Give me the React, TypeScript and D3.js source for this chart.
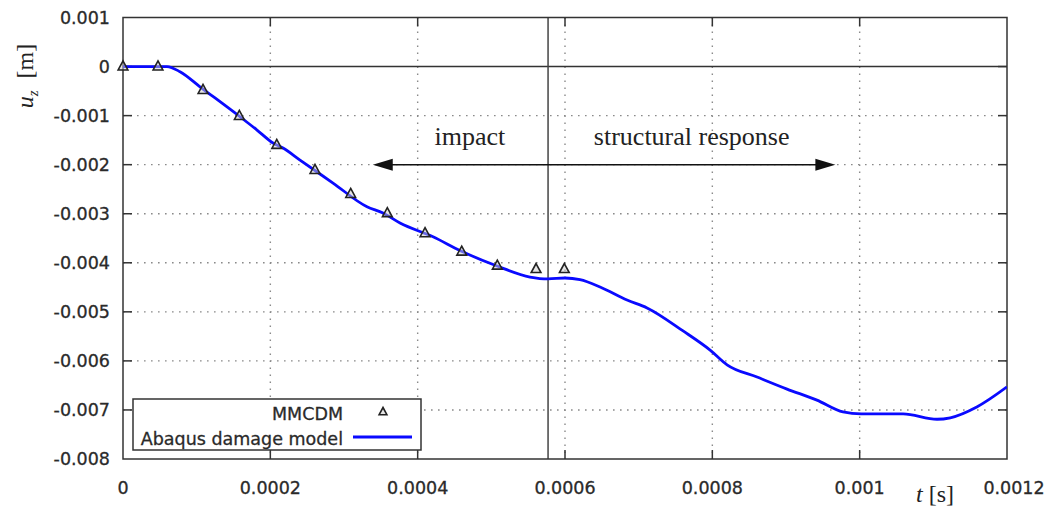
import React from "react";
import * as d3 from "d3";

// Data
const xTicks = [0, 0.0002, 0.0004, 0.0006, 0.0008, 0.001, 0.0012];
const xTickLabels = ["0", "0.0002", "0.0004", "0.0006", "0.0008", "0.001", "0.0012"];
const yTicks = [0.001, 0, -0.001, -0.002, -0.003, -0.004, -0.005, -0.006, -0.007, -0.008];
const yTickLabels = ["0.001", "0", "-0.001", "-0.002", "-0.003", "-0.004", "-0.005", "-0.006", "-0.007", "-0.008"];

const mmcdmT = [0, 0.0000475, 0.0001086, 0.0001579, 0.0002087, 0.0002606, 0.0003091, 0.0003588, 0.00041, 0.0004598, 0.0005081, 0.0005607, 0.0005991];
const mmcdmU = [0, 0, -0.00048, -0.00101, -0.0016, -0.00211, -0.0026, -0.00299, -0.0034, -0.003775, -0.00406, -0.00413, -0.00413];

const abaqusT = [0, 0.0000597, 0.0000774, 0.0001045, 0.0001588, 0.0001819, 0.0002036, 0.0002172, 0.0002403, 0.0002851, 0.0003312, 0.000353, 0.000376, 0.0004208, 0.0004588, 0.0005077, 0.0005525, 0.000577, 0.0006, 0.0006204, 0.0006476, 0.0006842, 0.0007114, 0.0007603, 0.000797, 0.00082, 0.0008607, 0.0009014, 0.000942, 0.0009774, 0.001002, 0.001059, 0.001105, 0.001123, 0.001159, 0.0012];
const abaqusU = [0, 0, -0.000106, -0.000412, -0.001023, -0.001294, -0.001559, -0.001661, -0.001906, -0.002375, -0.002858, -0.002986, -0.00319, -0.00347, -0.00376, -0.004066, -0.00429, -0.00433, -0.00431, -0.004345, -0.004494, -0.00476, -0.00492, -0.00539, -0.00578, -0.00608, -0.00633, -0.006575, -0.0068, -0.00704, -0.00708, -0.00708, -0.00719, -0.00716, -0.00694, -0.00653];

const dividerT = 0.000577;
const arrowStartT = 0.000339;
const arrowEndT = 0.000967;
const arrowU = -0.002;

const W = 1046;
const H = 514;
const left = 123;
const right = 1007;
const top = 17.5;
const bottom = 459;

export default function App() {
  const x = d3.scaleLinear().domain([0, 0.0012]).range([left, right]);
  const y = d3.scaleLinear().domain([-0.008, 0.001]).range([bottom, top]);

  const curve = d3
    .line<number>()
    .x((_, i) => x(abaqusT[i]))
    .y((d) => y(d))
    .curve(d3.curveMonotoneX)(abaqusU) as string;

  const tri = (cx: number, cy: number, s: number) =>
    `M${cx},${cy - s * 0.75}L${cx + s * 0.65},${cy + s * 0.45}L${cx - s * 0.65},${cy + s * 0.45}Z`;

  const sans = "'DejaVu Sans', Verdana, sans-serif";
  const serif = "'Liberation Serif', 'Times New Roman', serif";
  const fs = 17.5;
  const labelStyle = { stroke: "#2a2a2a", strokeWidth: 0.3 } as const;
  const tickLen = 9;
  const gridColor = "#8a8a8a";
  const axisColor = "#333";
  const ay = y(arrowU);
  const ax1 = x(arrowStartT);
  const ax2 = x(arrowEndT);

  return (
    <svg width={W} height={H} style={{ position: "absolute", left: 0, top: 0, background: "#fff" }}>
      <defs>
        <clipPath id="plotclip">
          <rect x={left} y={top} width={right - left} height={bottom - top} />
        </clipPath>
      </defs>
      {/* grid */}
      {xTicks.slice(1, -1).map((t, i) => (
        <line key={"gx" + i} x1={x(t)} x2={x(t)} y1={top} y2={bottom} stroke={gridColor} strokeWidth={1.4} strokeDasharray="1.6,5.4" />
      ))}
      {yTicks.slice(1, -1).filter((v) => v !== 0).map((v, i) => (
        <line key={"gy" + i} x1={left} x2={right} y1={y(v)} y2={y(v)} stroke={gridColor} strokeWidth={1.4} strokeDasharray="1.6,5.4" />
      ))}
      {/* zero line */}
      <line x1={left} x2={right} y1={y(0)} y2={y(0)} stroke={axisColor} strokeWidth={1.5} />
      {/* divider */}
      <line x1={x(dividerT)} x2={x(dividerT)} y1={top} y2={bottom} stroke="#444" strokeWidth={1.5} />
      {/* ticks */}
      {xTicks.slice(1, -1).map((t, i) => (
        <g key={"tx" + i}>
          <line x1={x(t)} x2={x(t)} y1={bottom} y2={bottom - tickLen} stroke={axisColor} strokeWidth={1.5} />
          <line x1={x(t)} x2={x(t)} y1={top} y2={top + tickLen} stroke={axisColor} strokeWidth={1.5} />
        </g>
      ))}
      {yTicks.slice(1, -1).map((v, i) => (
        <g key={"ty" + i}>
          <line x1={left} x2={left + tickLen} y1={y(v)} y2={y(v)} stroke={axisColor} strokeWidth={1.5} />
          <line x1={right} x2={right - tickLen} y1={y(v)} y2={y(v)} stroke={axisColor} strokeWidth={1.5} />
        </g>
      ))}
      {/* frame */}
      <rect x={left} y={top} width={right - left} height={bottom - top} fill="none" stroke={axisColor} strokeWidth={1.5} />
      {/* tick labels */}
      {yTicks.map((v, i) => (
        <text key={"ly" + i} x={110} y={y(v)} dy="0.36em" textAnchor="end" fontFamily={sans} fontSize={fs} fill="#2a2a2a" style={labelStyle}>
          {yTickLabels[i]}
        </text>
      ))}
      {xTicks.map((t, i) => (
        <text key={"lx" + i} x={x(t) + (i === xTicks.length - 1 ? 7 : 0)} y={494} textAnchor="middle" fontFamily={sans} fontSize={fs} fill="#2a2a2a" style={labelStyle}>
          {xTickLabels[i]}
        </text>
      ))}
      {/* axis labels */}
      <text transform="translate(33,76) rotate(-90)" textAnchor="middle" fontFamily={serif} fontSize={24} fill="#222">
        <tspan fontStyle="italic">u</tspan>
        <tspan fontStyle="italic" fontSize={15} dy={5}>z</tspan>
        <tspan dy={-5}>{"\u00a0\u00a0[m]"}</tspan>
      </text>
      <text x={916} y={502} fontFamily={serif} fontSize={24} fill="#222">
        <tspan fontStyle="italic">t</tspan>
        <tspan>{" [s]"}</tspan>
      </text>
      {/* annotation */}
      <line x1={ax1 + 16} x2={ax2 - 16} y1={ay} y2={ay} stroke="#111" strokeWidth={1.5} />
      <path d={`M${ax1},${ay}L${ax1 + 20},${ay - 6}L${ax1 + 20},${ay + 6}Z`} fill="#111" />
      <path d={`M${ax2},${ay}L${ax2 - 20},${ay - 6}L${ax2 - 20},${ay + 6}Z`} fill="#111" />
      <text x={x(0.000471)} y={145} textAnchor="middle" fontFamily={serif} fontSize={26} fill="#222">impact</text>
      <text x={x(0.000772)} y={145} textAnchor="middle" fontFamily={serif} fontSize={26} fill="#222">structural response</text>
      {/* data */}
      <g clipPath="url(#plotclip)">
        <path d={curve} fill="none" stroke="#0a0aff" strokeWidth={2.8} strokeLinejoin="round" />
      </g>
      {mmcdmT.map((t, i) => (
        <path key={"m" + i} d={tri(x(t), y(mmcdmU[i]), 7.5)} fill="#ccc" fillOpacity={0.5} stroke="#222" strokeWidth={1.6} />
      ))}
      {/* legend */}
      <rect x={133} y={399} width={288} height={51} fill="#fff" stroke={axisColor} strokeWidth={1.5} />
      <text x={343} y={420} textAnchor="end" fontFamily={sans} fontSize={fs} fill="#2a2a2a" style={labelStyle}>MMCDM</text>
      <path d={tri(383, 412, 6)} fill="#ccc" fillOpacity={0.5} stroke="#222" strokeWidth={1.6} />
      <text x={343} y={445} textAnchor="end" fontFamily={sans} fontSize={fs} fill="#2a2a2a" style={labelStyle}>Abaqus damage model</text>
      <line x1={353} x2={412} y1={437} y2={437} stroke="#0a0aff" strokeWidth={2.8} />
    </svg>
  );
}
